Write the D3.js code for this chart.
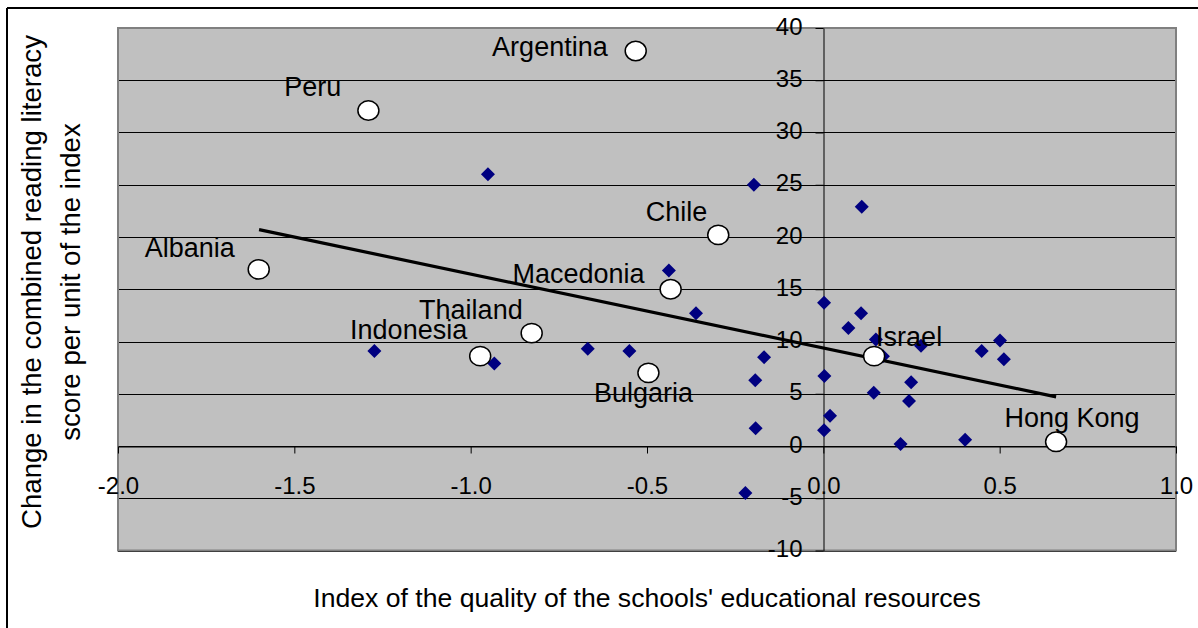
<!DOCTYPE html>
<html>
<head>
<meta charset="utf-8">
<script src="https://cdn.jsdelivr.net/npm/d3@7"></script>
<style>
  html, body { margin: 0; padding: 0; background: #fff; }
  svg { display: block; font-family: "Liberation Sans", Arial, sans-serif; }
</style>
</head>
<body>
<svg id="chart" width="1198" height="628"></svg>
<script>
// ---- Data ----
const otherX = [-0.951, -0.197, 0.109, -0.438, -0.361, 0.002, 0.071, 0.107, 0.149, 0.169,
                0.277, 0.449, 0.501, 0.512, 0.249, 0.243, 0.143, 0.219, 0.402, 0.003,
                0.019, 0.002, -0.168, -0.193, -0.192, -0.221, -0.550, -0.668, -1.273, -0.933];
const otherY = [26.0, 25.0, 22.9, 16.8, 12.7, 13.7, 11.3, 12.7, 10.2, 8.6,
                9.6, 9.1, 10.1, 8.3, 6.1, 4.3, 5.1, 0.2, 0.6, 6.7,
                2.9, 1.5, 8.5, 6.3, 1.7, -4.5, 9.1, 9.3, 9.1, 7.9];

const countries = ["Argentina", "Peru", "Chile", "Albania", "Macedonia", "Thailand",
                   "Indonesia", "Bulgaria", "Israel", "Hong Kong"];
const countryX = [-0.532, -1.290, -0.298, -1.601, -0.433, -0.827, -0.973, -0.496, 0.144, 0.660];
const countryY = [37.8, 32.1, 20.2, 16.9, 15.0, 10.8, 8.6, 7.0, 8.6, 0.4];

const trendX = [-1.60, 0.66];
const trendY = [20.7, 4.7];

const xTicks = [-2.0, -1.5, -1.0, -0.5, 0.0, 0.5, 1.0];
const yTicks = [-10, -5, 0, 5, 10, 15, 20, 25, 30, 35, 40];

const xTitle = "Index of the quality of the schools' educational resources";
const yTitleLines = ["Change in the combined reading literacy", "score per unit of the index"];

// ---- Label placement (layout) ----
const labelPlace = {
  "Argentina": {dx: -28, dy: 5, anchor: "end"},
  "Peru":      {dx: -27, dy: -15, anchor: "end"},
  "Chile":     {dx: -11, dy: -14, anchor: "end"},
  "Albania":   {dx: -24, dy: -12, anchor: "end"},
  "Macedonia": {dx: -26, dy: -6, anchor: "end"},
  "Thailand":  {dx: -9, dy: -14, anchor: "end"},
  "Indonesia": {dx: -13, dy: -17, anchor: "end"},
  "Bulgaria":  {dx: -5, dy: 29, anchor: "middle"},
  "Israel":    {dx: 2, dy: -10, anchor: "start"},
  "Hong Kong": {dx: 16, dy: -15, anchor: "middle"}
};

// ---- Layout ----
const svg = d3.select("#chart");
const plot = {left: 118, right: 1176, top: 28, bottom: 550.5};

const x = d3.scaleLinear().domain([-2, 1]).range([plot.left, plot.right]);
const y = d3.scaleLinear().domain([-10, 40]).range([plot.bottom, plot.top]);

// outer frame (top and left lines)
svg.append("line").attr("x1", 7).attr("x2", 1198).attr("y1", 8).attr("y2", 8)
  .attr("stroke", "#000").attr("stroke-width", 2);
svg.append("line").attr("x1", 7).attr("x2", 7).attr("y1", 8).attr("y2", 628)
  .attr("stroke", "#000").attr("stroke-width", 2);

// plot background
svg.append("rect")
  .attr("x", plot.left).attr("y", plot.top)
  .attr("width", plot.right - plot.left).attr("height", plot.bottom - plot.top)
  .attr("fill", "#C0C0C0");

// gridlines
svg.append("g").selectAll("line").data(yTicks).join("line")
  .attr("x1", plot.left).attr("x2", plot.right)
  .attr("y1", d => Math.round(y(d)) + 0.5).attr("y2", d => Math.round(y(d)) + 0.5)
  .attr("stroke", "#000").attr("stroke-width", 1);

// plot border
svg.append("rect")
  .attr("x", plot.left).attr("y", plot.top)
  .attr("width", plot.right - plot.left).attr("height", plot.bottom - plot.top)
  .attr("fill", "none").attr("stroke", "#808080").attr("stroke-width", 2);

// x axis at y=0
const xAxisY = Math.round(y(0)) + 0.5;
const xAxis = svg.append("g").attr("transform", `translate(0,${xAxisY})`)
  .call(d3.axisBottom(x).tickValues(xTicks).tickSize(7).tickFormat(d3.format(".1f")).tickSizeOuter(0));
xAxis.select(".domain").attr("stroke", "#000");
xAxis.selectAll(".tick line").attr("stroke", "#000");
xAxis.selectAll(".tick text")
  .attr("y", 47).attr("dy", 0)
  .attr("font-size", 24).attr("fill", "#000")
  .attr("font-family", "Liberation Sans, Arial, sans-serif")
  .text(d => d3.format(".1f")(d).replace("−", "-"));

// y axis at x=0
const yAxisX = Math.round(x(0)) + 0.5;
const yAxis = svg.append("g").attr("transform", `translate(${yAxisX},0)`)
  .call(d3.axisLeft(y).tickValues(yTicks).tickSize(8).tickSizeOuter(0));
yAxis.select(".domain").attr("stroke", "#000");
yAxis.selectAll(".tick line").attr("stroke", "#000");
yAxis.selectAll(".tick text")
  .attr("x", -21).attr("dy", "0.25em")
  .attr("font-size", 24).attr("fill", "#000")
  .attr("font-family", "Liberation Sans, Arial, sans-serif")
  .text(d => String(d));

// other countries (diamonds)
const diamond = d3.symbol().type(d3.symbolSquare).size(98);
svg.append("g").selectAll("path").data(otherX.map((v, i) => [v, otherY[i]])).join("path")
  .attr("d", diamond)
  .attr("transform", d => `translate(${x(d[0])},${y(d[1])}) rotate(45)`)
  .attr("fill", "#000080");

// trend line
svg.append("line")
  .attr("x1", x(trendX[0])).attr("y1", y(trendY[0]))
  .attr("x2", x(trendX[1])).attr("y2", y(trendY[1]))
  .attr("stroke", "#000").attr("stroke-width", 3.2);

// labelled countries (circles)
const named = countries.map((c, i) => ({name: c, vx: countryX[i], vy: countryY[i]}));
svg.append("g").selectAll("ellipse").data(named).join("ellipse")
  .attr("cx", d => x(d.vx)).attr("cy", d => y(d.vy))
  .attr("rx", 10.5).attr("ry", 9.7)
  .attr("fill", "#fff").attr("stroke", "#000").attr("stroke-width", 1.5);

svg.append("g").selectAll("text").data(named).join("text")
  .attr("x", d => x(d.vx) + labelPlace[d.name].dx)
  .attr("y", d => y(d.vy) + labelPlace[d.name].dy)
  .attr("text-anchor", d => labelPlace[d.name].anchor)
  .attr("font-size", 27).attr("fill", "#000")
  .text(d => d.name);

// axis titles
svg.append("text")
  .attr("x", (plot.left + plot.right) / 2).attr("y", 606.5)
  .attr("text-anchor", "middle").attr("font-size", 26.6).attr("fill", "#000")
  .text(xTitle);

const yt = svg.append("text")
  .attr("transform", "translate(0,282) rotate(-90)")
  .attr("text-anchor", "middle").attr("font-size", 27.6).attr("fill", "#000");
yt.selectAll("tspan").data(yTitleLines).join("tspan")
  .attr("x", 0).attr("y", (d, i) => i === 0 ? 41 : 80)
  .text(d => d);
</script>
</body>
</html>
